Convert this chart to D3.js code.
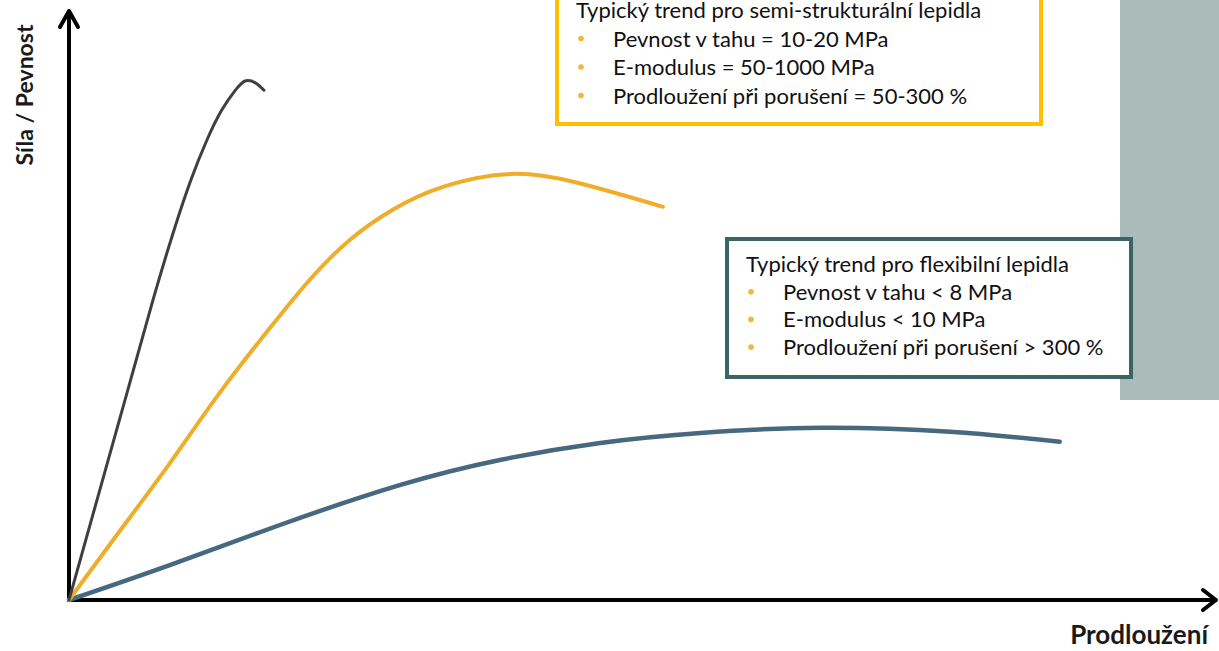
<!DOCTYPE html>
<html lang="cs">
<head>
<meta charset="utf-8">
<title>Síla / Pevnost vs Prodloužení</title>
<script src="https://cdn.jsdelivr.net/npm/d3@7"></script>
<style>
  html, body { margin: 0; padding: 0; background: #fff; }
  svg { display: block; font-family: Lato, "Open Sans", sans-serif; }
</style>
</head>
<body>
<script>
// curves, arbitrary units 0..100 on both axes
var rigidX = [0, 2.46, 4.91, 7.37, 9.21, 10.7, 12.1, 13.4, 14.6, 15.5, 16.4, 17.1];
var rigidY = [0, 17.1, 34.1, 51.2, 63.1, 71.7, 78.5, 83.6, 87.0, 88.6, 88.2, 87.0];

var semiX = [0, 4.5, 8.9, 13.2, 17.5, 21.1, 24.6, 28.4, 32.8, 38.7, 44.6, 52.1];
var semiY = [0, 11.9, 23.5, 35.3, 46.1, 54.6, 61.4, 66.6, 70.5, 72.7, 71.2, 67.1];

var flexX = [0, 8.9, 18.5, 29.0, 37.8, 46.6, 55.4, 65.9, 77.3, 86.9];
var flexY = [0, 6.0, 12.8, 19.6, 23.9, 26.8, 28.5, 29.4, 28.7, 27.0];

var yTitle = "Síla / Pevnost";
var xTitle = "Prodloužení";

var semiTitle = "Typický trend pro semi-strukturální lepidla";
var semiItems = ["Pevnost v tahu = 10-20 MPa", "E-modulus = 50-1000 MPa", "Prodloužení při porušení = 50-300 %"];
var flexTitle = "Typický trend pro flexibilní lepidla";
var flexItems = ["Pevnost v tahu  < 8 MPa", "E-modulus < 10 MPa", "Prodloužení při porušení > 300 %"];

var W = 1219, H = 651;

var svg = d3.select("body").append("svg")
  .attr("width", W)
  .attr("height", H);

var x = d3.scaleLinear().domain([0, 100]).range([69, 1209]);
var y = d3.scaleLinear().domain([0, 100]).range([600, 14]);

// grey panel on the right edge
svg.append("rect")
  .attr("x", 1120).attr("y", 0)
  .attr("width", W - 1120).attr("height", 400)
  .attr("fill", "#aabbb9");

// axes (no ticks, just the arrows)
var axisG = svg.append("g");
axisG.append("line")
  .attr("x1", x(0)).attr("y1", y(0))
  .attr("x2", x(100) + 7).attr("y2", y(0))
  .attr("stroke", "#000").attr("stroke-width", 4);
axisG.append("line")
  .attr("x1", x(0)).attr("y1", y(0) + 2)
  .attr("x2", x(0)).attr("y2", y(100) - 3)
  .attr("stroke", "#000").attr("stroke-width", 4);
axisG.append("path")
  .attr("d", "M" + (x(100) - 6) + "," + (y(0) - 10) + "L" + (x(100) + 7) + "," + y(0) + "L" + (x(100) - 6) + "," + (y(0) + 10))
  .attr("fill", "none").attr("stroke", "#000").attr("stroke-width", 4)
  .attr("stroke-linecap", "round").attr("stroke-linejoin", "round");
axisG.append("path")
  .attr("d", "M" + (x(0) - 9) + "," + (y(100) + 13) + "L" + x(0) + "," + (y(100) - 3) + "L" + (x(0) + 9) + "," + (y(100) + 13))
  .attr("fill", "none").attr("stroke", "#000").attr("stroke-width", 4)
  .attr("stroke-linecap", "round").attr("stroke-linejoin", "round");

svg.append("text")
  .attr("transform", "translate(33,95) rotate(-90)")
  .attr("text-anchor", "middle")
  .attr("font-weight", "bold")
  .attr("font-size", 23)
  .attr("fill", "#1a1a1a")
  .text(yTitle);

svg.append("text")
  .attr("x", 1208).attr("y", 644)
  .attr("text-anchor", "end")
  .attr("font-weight", "bold")
  .attr("font-size", 26)
  .attr("fill", "#1a1a1a")
  .text(xTitle);

// curves
var line = d3.line()
  .x(function(d) { return x(d[0]); })
  .y(function(d) { return y(d[1]); })
  .curve(d3.curveNatural);

var series = [
  {xs: flexX, ys: flexY, color: "#46697f", width: 4.5},
  {xs: semiX, ys: semiY, color: "#f0ad2a", width: 4},
  {xs: rigidX, ys: rigidY, color: "#3f3f3f", width: 3}
];

svg.append("g").selectAll("path")
  .data(series)
  .enter().append("path")
  .attr("d", function(s) { return line(d3.zip(s.xs, s.ys)); })
  .attr("fill", "none")
  .attr("stroke", function(s) { return s.color; })
  .attr("stroke-width", function(s) { return s.width; })
  .attr("stroke-linecap", "round");

// text boxes
function infoBox(bx, by, bw, bh, border, title, items, baseY, step) {
  var g = svg.append("g");
  g.append("rect")
    .attr("x", bx).attr("y", by)
    .attr("width", bw).attr("height", bh)
    .attr("fill", "#fff")
    .attr("stroke", border)
    .attr("stroke-width", 4);
  g.append("text")
    .attr("x", bx + 19).attr("y", baseY)
    .attr("font-size", 22).attr("fill", "#111")
    .text(title);
  items.forEach(function(t, i) {
    g.append("circle")
      .attr("cx", bx + 24).attr("cy", baseY + step * (i + 1) - 8)
      .attr("r", 2.8).attr("fill", "#f7b33b");
    g.append("text")
      .attr("x", bx + 56).attr("y", baseY + step * (i + 1))
      .attr("font-size", 22).attr("fill", "#111")
      .text(t);
  });
}

infoBox(557, -6, 484, 130, "#ffc000", semiTitle, semiItems, 18, 28.5);
infoBox(727, 239, 404, 138, "#3b6563", flexTitle, flexItems, 272, 27.7);
</script>
</body>
</html>
